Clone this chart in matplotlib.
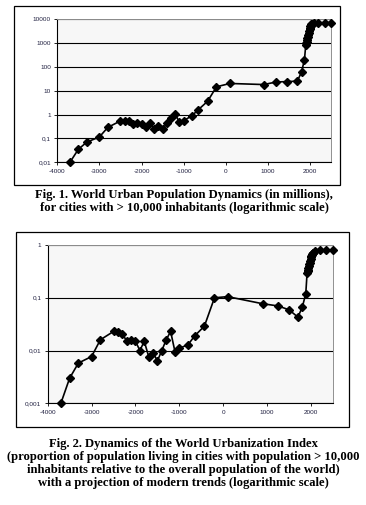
"""
World urban population / urbanization index, two stacked log-scale panels with captions.
"""

import matplotlib
matplotlib.use("Agg")
import matplotlib.pyplot as plt
from matplotlib.patches import Rectangle

# ── data ──────────────────────────────────────────────────────────────────────
years_pop = [-3700, -3500, -3300, -3000, -2800, -2500, -2400, -2300, -2200, -2100,
             -2000, -1900, -1800, -1700, -1600, -1500, -1400, -1300, -1200, -1100,
             -1000, -800, -650, -430, -220, 100, 900, 1200, 1450, 1700,
             1800, 1870, 1900, 1910, 1920, 1930, 1940, 1950, 1960, 1970,
             1980, 1990, 2000, 2010, 2020, 2030, 2040, 2050, 2100, 2200,
             2350, 2500]
urban_pop = [0.01, 0.035, 0.07, 0.115, 0.29, 0.54, 0.54, 0.55, 0.42, 0.46,
             0.42, 0.30, 0.43, 0.25, 0.33, 0.24, 0.43, 0.70, 1.05, 0.47,
             0.55, 0.90, 1.6, 3.6, 14.5, 20, 18, 23, 24, 25,
             60, 200, 800, 950, 1100, 1300, 1550, 1850, 2200, 2650,
             3150, 3750, 4400, 5000, 5500, 5900, 6200, 6400, 6700, 7000,
             7000, 7000]

years_idx = [-3700, -3500, -3300, -3000, -2800, -2500, -2400, -2300, -2200, -2100,
             -2000, -1900, -1800, -1700, -1600, -1500, -1400, -1300, -1200, -1100,
             -1000, -800, -650, -430, -200, 100, 900, 1250, 1500, 1700,
             1800, 1880, 1910, 1920, 1930, 1940, 1950, 1960, 1970, 1980,
             1990, 2000, 2010, 2020, 2030, 2040, 2050, 2100, 2200, 2350,
             2500]
urban_idx = [0.001, 0.003, 0.0058, 0.0077, 0.016, 0.023, 0.022, 0.021, 0.015, 0.016,
             0.015, 0.010, 0.015, 0.0077, 0.009, 0.0064, 0.010, 0.016, 0.023, 0.0095,
             0.011, 0.013, 0.019, 0.029, 0.10, 0.105, 0.077, 0.070, 0.059, 0.043,
             0.066, 0.12, 0.30, 0.32, 0.34, 0.37, 0.40, 0.43, 0.46, 0.50,
             0.54, 0.58, 0.62, 0.65, 0.68, 0.70, 0.72, 0.77, 0.80, 0.80,
             0.80]

x_ticks = [-4000, -3000, -2000, -1000, 0, 1000, 2000]
y_ticks_pop = [0.01, 0.1, 1, 10, 100, 1000, 10000]
y_labels_pop = ["0,01", "0,1", "1", "10", "100", "1000", "10000"]
y_ticks_idx = [0.001, 0.01, 0.1, 1]
y_labels_idx = ["0,001", "0,01", "0,1", "1"]

caption1 = ["Fig. 1. World Urban Population Dynamics (in millions),",
            "for cities with > 10,000 inhabitants (logarithmic scale)"]
caption2 = ["Fig. 2. Dynamics of the World Urbanization Index",
            "(proportion of population living in cities with population > 10,000",
            "inhabitants relative to the overall population of the world)",
            "with a projection of modern trends (logarithmic scale)"]

# ── layout (pixel units of the 366x505 canvas) ───────────────────────────────
W, H = 366, 505
LABEL_C = "#202040"

def fr(x0, y0, x1, y1):
    """pixel box (top-left origin) -> figure fraction rect"""
    return [x0 / W, (H - y1) / H, (x1 - x0) / W, (y1 - y0) / H]

fig = plt.figure(figsize=(W / 100, H / 100), dpi=100)

for box in [(14, 6, 340, 185), (16, 232, 349, 427)]:
    fig.add_artist(Rectangle(fr(*box)[:2], *fr(*box)[2:], transform=fig.transFigure,
                             fill=False, ec="black", lw=0.9))


def panel(rect, xs, ys, yt, yl, ylim):
    ax = fig.add_axes(rect)
    ax.set_facecolor("#f7f7f7")
    ax.set_yscale("log")
    ax.plot(xs, ys, color="black", lw=1.2, marker="D", ms=4.2,
            mfc="black", mec="black", zorder=3, clip_on=False)
    ax.set_xlim(-4000, 2500)
    ax.set_ylim(*ylim)
    ax.set_xticks(x_ticks)
    ax.set_xticklabels([str(t) for t in x_ticks])
    ax.set_yticks(yt)
    ax.set_yticklabels(yl)
    ax.minorticks_off()
    ax.grid(axis="y", color="black", lw=0.8)
    ax.set_axisbelow(True)
    for s in ["top", "right"]:
        ax.spines[s].set_color("#909090")
        ax.spines[s].set_linewidth(0.7)
    for s in ["left", "bottom"]:
        ax.spines[s].set_color("black")
        ax.spines[s].set_linewidth(0.8)
    ax.tick_params(length=2.5, width=0.6, pad=2, labelsize=4.6,
                   labelcolor=LABEL_C, labelfontfamily="Liberation Sans")
    return ax

panel(fr(57.3, 19, 331, 162.3), years_pop, urban_pop,
      y_ticks_pop, y_labels_pop, (0.01, 10000))
panel(fr(47.7, 245, 333, 403.3), years_idx, urban_idx,
      y_ticks_idx, y_labels_idx, (0.001, 1))

# ── captions ──────────────────────────────────────────────────────────────────
for lines, x, y0, step in [(caption1, 184, 195, 13.5), (caption2, 183.5, 443.5, 13.2)]:
    for i, t in enumerate(lines):
        fig.text(x / W, 1 - (y0 + i * step) / H, t, ha="center", va="center",
                 fontsize=9.1, fontweight="bold", family="Liberation Serif")

fig.savefig("out.png", dpi=100)
